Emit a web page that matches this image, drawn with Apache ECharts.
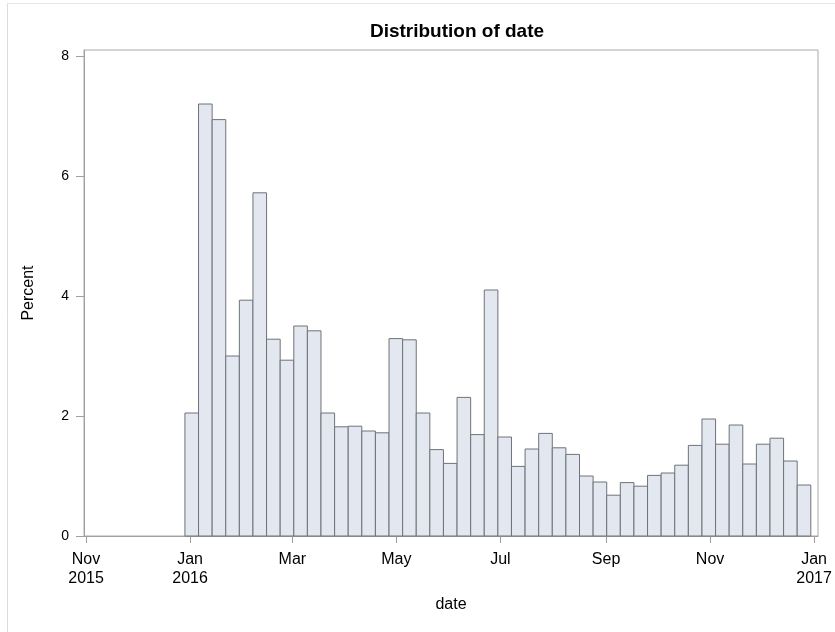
<!DOCTYPE html>
<html>
<head>
<meta charset="utf-8">
<script src="https://cdn.jsdelivr.net/npm/echarts@6/dist/echarts.min.js"></script>
<style>
  html, body { margin: 0; padding: 0; background: #fff; }
  #chart { width: 835px; height: 632px; }
</style>
</head>
<body>
<div id="chart"></div>
<script>
// histogram bins: 8-day wide, first one starting 29 Dec 2015
const binStart = Date.UTC(2015, 11, 29);
const binDays = 7.98;
const DAY = 24 * 3600 * 1000;

// percent of observations in each bin
const percents = [
  2.05, 7.2, 6.94, 3.0, 3.93, 5.72, 3.28, 2.93, 3.5, 3.42,
  2.05, 1.82, 1.83, 1.75, 1.72, 3.29, 3.27, 2.05, 1.44, 1.21,
  2.31, 1.69, 4.1, 1.65, 1.16, 1.45, 1.71, 1.47, 1.36, 1.0,
  0.9, 0.68, 0.89, 0.83, 1.01, 1.05, 1.18, 1.51, 1.95, 1.53,
  1.85, 1.2, 1.53, 1.63, 1.25, 0.85
];

// x tick positions and their labels
const tickDates = [
  Date.UTC(2015, 10, 1), Date.UTC(2016, 0, 1), Date.UTC(2016, 2, 1),
  Date.UTC(2016, 4, 1), Date.UTC(2016, 6, 1), Date.UTC(2016, 8, 1),
  Date.UTC(2016, 10, 1), Date.UTC(2017, 0, 1)
];
const tickLabels = ['Nov\n2015', 'Jan\n2016', 'Mar', 'May', 'Jul', 'Sep', 'Nov', 'Jan\n2017'];

const yTicks = [0, 2, 4, 6, 8];

const bins = percents.map(function (p, i) {
  const s = binStart + i * binDays * DAY;
  return [s, s + binDays * DAY, p];
});

const font = 'Arial, "Liberation Sans", sans-serif';
const chart = echarts.init(document.getElementById('chart'));

chart.setOption({
  animation: false,
  title: {
    text: 'Distribution of date',
    left: 452,
    top: 17,
    textAlign: 'center',
    textStyle: { fontFamily: font, fontSize: 19, fontWeight: 'bold', color: '#000' }
  },
  graphic: [
    { type: 'line', shape: { x1: 7.5, y1: 3, x2: 7.5, y2: 632 }, style: { stroke: '#dcdcdc', lineWidth: 1 } },
    { type: 'line', shape: { x1: 7, y1: 3.5, x2: 835, y2: 3.5 }, style: { stroke: '#e6e6e6', lineWidth: 1 } }
  ],
  grid: {
    left: 84, right: 17, top: 50, bottom: 96,
    show: true, borderColor: '#a8a8a8', borderWidth: 1
  },
  xAxis: {
    type: 'value',
    min: Date.UTC(2015, 10, 1) - 1.2 * DAY,
    max: Date.UTC(2017, 0, 1) + 2.3 * DAY,
    name: 'date',
    nameLocation: 'middle',
    nameGap: 61,
    nameTextStyle: { fontFamily: font, fontSize: 16, color: '#000' },
    axisLine: { show: true, lineStyle: { color: '#a0a0a0' } },
    axisTick: { show: true, length: 7, customValues: tickDates, lineStyle: { color: '#a0a0a0' } },
    axisLabel: {
      customValues: tickDates,
      margin: 14,
      fontFamily: font, fontSize: 16, color: '#000', lineHeight: 19,
      formatter: function (v) {
        const i = tickDates.indexOf(v);
        return i >= 0 ? tickLabels[i] : '';
      }
    },
    splitLine: { show: false }
  },
  yAxis: {
    type: 'value',
    min: 0,
    max: 8.1,
    name: 'Percent',
    nameLocation: 'middle',
    nameGap: 47,
    nameTextStyle: { fontFamily: font, fontSize: 16, color: '#000' },
    axisLine: { show: true, lineStyle: { color: '#a0a0a0' } },
    axisTick: { show: true, length: 8, customValues: yTicks, lineStyle: { color: '#a0a0a0' } },
    axisLabel: { customValues: yTicks, margin: 15, fontFamily: font, fontSize: 14, color: '#000' },
    splitLine: { show: false }
  },
  series: [{
    type: 'custom',
    data: bins,
    encode: { x: [0, 1], y: 2 },
    renderItem: function (params, api) {
      const top = api.coord([api.value(0), api.value(2)]);
      const bottom = api.coord([api.value(1), 0]);
      return {
        type: 'rect',
        shape: { x: top[0], y: top[1], width: bottom[0] - top[0], height: bottom[1] - top[1] },
        style: { fill: '#e2e7f0', stroke: '#707379', lineWidth: 1 }
      };
    }
  }]
});
</script>
</body>
</html>
